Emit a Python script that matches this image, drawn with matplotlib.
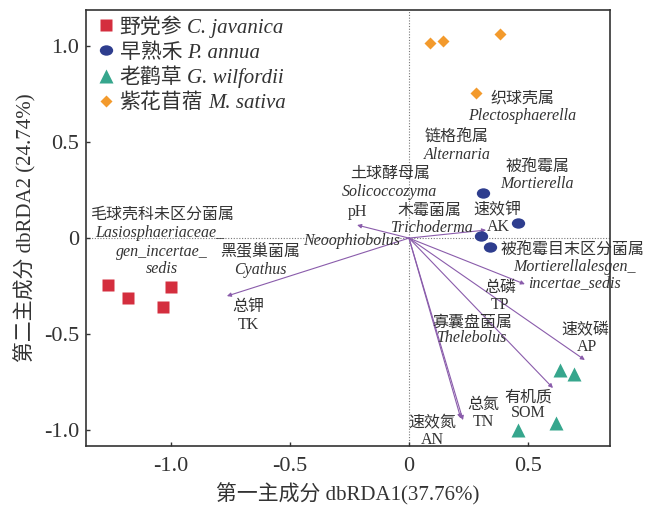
import matplotlib
matplotlib.use("Agg")
import matplotlib.pyplot as plt
from matplotlib.path import Path
import numpy as np

plt.rcParams['font.family'] = ['Liberation Serif', 'Noto Sans CJK SC', 'DejaVu Sans']
plt.rcParams['axes.unicode_minus'] = False

# ---------------- data ----------------
groups_cn = ['野党参', '早熟禾', '老鹳草', '紫花苜蓿']
groups_la = ['C. javanica', 'P. annua', 'G. wilfordii', 'M. sativa']

cj_x = [-1.265, -1.181, -1.034, -1.000]
cj_y = [-0.245, -0.313, -0.359, -0.255]
pa_x = [0.311, 0.458, 0.303, 0.340]
pa_y = [0.234, 0.078, 0.010, -0.047]
gw_x = [0.634, 0.693, 0.618, 0.458]
gw_y = [-0.688, -0.708, -0.964, -1.000]
ms_x = [0.088, 0.143, 0.382, 0.282]
ms_y = [1.016, 1.026, 1.062, 0.755]

env_names = ['pH', 'TK', 'AK', 'TP', 'AP', 'SOM', 'TN', 'AN']
env_x = [-0.218, -0.765, 0.324, 0.487, 0.739, 0.605, 0.227, 0.218]
env_y = [0.068, -0.302, 0.042, -0.240, -0.635, -0.781, -0.948, -0.940]

x_ticks = [-1.0, -0.5, 0.0, 0.5]
y_ticks = [-1.0, -0.5, 0.0, 0.5, 1.0]
x_label = '第一主成分 dbRDA1(37.76%)'
y_label = '第二主成分 dbRDA2 (24.74%)'

# text labels: (text, x, y, italic)
labels = [
    ('织球壳属', 0.475, 0.729, False), ('Plectosphaerella', 0.475, 0.635, True),
    ('链格孢属', 0.202, 0.526, False), ('Alternaria', 0.202, 0.432, True),
    ('被孢霉属', 0.538, 0.370, False), ('Mortierella', 0.538, 0.281, True),
    ('土球酵母属', -0.080, 0.333, False), ('Solicoccozyma', -0.080, 0.240, True),
    ('pH', -0.218, 0.135, False),
    ('木霉菌属', 0.088, 0.141, False), ('Trichoderma', 0.100, 0.052, True),
    ('速效钾', 0.370, 0.146, False), ('AK', 0.374, 0.057, False),
    ('Neoophiobolus', -0.240, -0.016, True),
    ('毛球壳科未区分菌属', -1.038, 0.120, False), ('Lasiosphaeriaceae_', -1.046, 0.026, True),
    ('gen_incertae_', -1.038, -0.073, True), ('sedis', -1.038, -0.161, True),
    ('黑蛋巢菌属', -0.626, -0.073, False), ('Cyathus', -0.626, -0.167, True),
    ('总钾', -0.676, -0.359, False), ('TK', -0.676, -0.453, False),
    ('被孢霉目末区分菌属', 0.689, -0.063, False), ('Mortierellalesgen_', 0.697, -0.151, True),
    ('incertae_sedis', 0.697, -0.234, True),
    ('总磷', 0.382, -0.260, False), ('TP', 0.382, -0.349, False),
    ('寡囊盘菌属', 0.265, -0.438, False), ('Thelebolus', 0.265, -0.521, True),
    ('速效磷', 0.739, -0.479, False), ('AP', 0.748, -0.568, False),
    ('有机质', 0.500, -0.828, False), ('SOM', 0.500, -0.911, False),
    ('总氮', 0.311, -0.870, False), ('TN', 0.311, -0.958, False),
    ('速效氮', 0.100, -0.964, False), ('AN', 0.100, -1.052, False),
]

# ---------------- figure ----------------
fig = plt.figure(figsize=(6.56, 5.07), dpi=100)
ax = fig.add_axes([0.1311, 0.1203, 0.7989, 0.8597])
ax.set_xlim(-1.357, 0.845)
ax.set_ylim(-1.083, 1.1875)

ax.axhline(0, color='#777777', lw=0.8, ls=(0, (1, 1.5)), zorder=1)
ax.axvline(0, color='#777777', lw=0.8, ls=(0, (1, 1.5)), zorder=1)

arrow_col = '#8a5cab'
for ex, ey in zip(env_x, env_y):
    ax.annotate('', xy=(ex, ey), xytext=(0, 0),
                arrowprops=dict(arrowstyle='-|>', color=arrow_col, lw=0.8,
                                mutation_scale=6, shrinkA=0, shrinkB=0),
                zorder=2)

ell = Path(Path.unit_circle().vertices * np.array([1.0, 0.78]), Path.unit_circle().codes)

cols = ['#d42e3e', '#2e3d8e', '#36a68d', '#f39a2c']
markers = ['s', ell, '^', 'D']
msz = [9.2, 9.6, 10, 6.3]
xs = [cj_x, pa_x, gw_x, ms_x]
ys = [cj_y, pa_y, gw_y, ms_y]
for x, y, m, s, c in zip(xs, ys, markers, msz, cols):
    ax.plot(x, y, ls='none', marker=m, ms=s, color=c, mec='none', zorder=3)

txt_col = '#333333'
for t, x, y, it in labels:
    ax.text(x, y, t, ha='center', va='center', fontsize=11.5, color=txt_col,
            style='italic' if it else 'normal', weight='light', zorder=4)

ax.set_xticks(x_ticks)
ax.set_yticks(y_ticks)
fmt = lambda v: '0' if abs(v) < 1e-9 else f'{v:.1f}'
ax.set_xticklabels([fmt(v) for v in x_ticks])
ax.set_yticklabels([fmt(v) for v in y_ticks])
ax.tick_params(direction='in', length=3, width=1, labelsize=16, colors='#333333')
ax.tick_params(axis='x', pad=8)
ax.tick_params(axis='y', pad=5)
for s in ax.spines.values():
    s.set_linewidth(1.2)
    s.set_color('#333333')

ax.set_xlabel(x_label, fontsize=15, color=txt_col, labelpad=5)
ax.set_ylabel(y_label, fontsize=15, color=txt_col, labelpad=5)

# ---------------- legend (manual, mixed upright/italic) ----------------
leg_mx = 0.038          # marker x (axes fraction)
leg_tx = 0.064          # text x
leg_y0 = 0.965          # first row centre
leg_dy = 0.0575         # row spacing
base_off = 7.5 / 436    # centre -> baseline (axes fraction)
cn_texts = []
for i, (cn, m, s, c) in enumerate(zip(groups_cn, markers, msz, cols)):
    yc = leg_y0 - i * leg_dy
    ax.plot([leg_mx], [yc], ls='none', marker=m, ms=s, color=c, mec='none',
            transform=ax.transAxes, clip_on=False, zorder=5)
    t = ax.text(leg_tx, yc - base_off, cn, transform=ax.transAxes, ha='left',
                va='baseline', fontsize=15, color=txt_col, weight='light', zorder=5)
    cn_texts.append(t)

fig.canvas.draw()
r = fig.canvas.get_renderer()
inv = ax.transAxes.inverted()
for t, la in zip(cn_texts, groups_la):
    bb = t.get_window_extent(renderer=r)
    x1 = inv.transform((bb.x1 + 5, bb.y0))[0]
    ax.text(x1, t.get_position()[1], la, transform=ax.transAxes, ha='left',
            va='baseline', fontsize=15, style='italic', color=txt_col, zorder=5)

fig.savefig('out.png', dpi=100)
